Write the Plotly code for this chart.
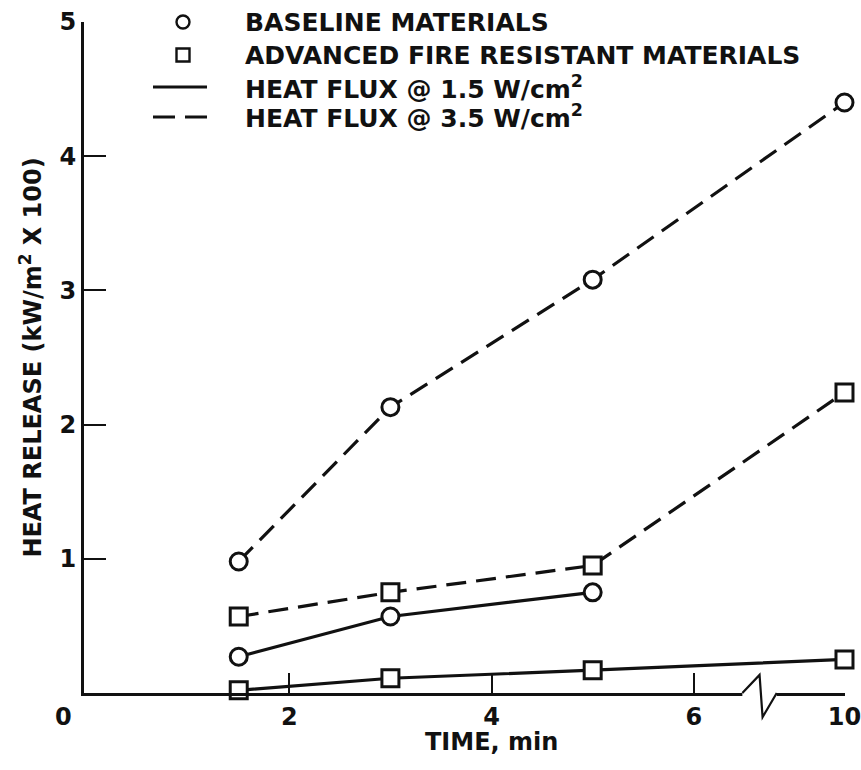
import plotly.graph_objects as go

# ---- data ----
time_min = [1.5, 3, 5, 10]
baseline_35 = [0.98, 2.13, 3.08, 4.40]
advanced_35 = [0.57, 0.75, 0.95, 2.24]
baseline_15 = [0.27, 0.57, 0.75, None]
advanced_15 = [0.02, 0.11, 0.17, 0.25]

x_ticks = [2, 4, 6, 10]
x_tick_text = ["2", "4", "6", "10"]
y_ticks = [1, 2, 3, 4, 5]

key_labels = [
    "BASELINE MATERIALS",
    "ADVANCED FIRE RESISTANT MATERIALS",
    "HEAT FLUX @ 1.5 W/cm<sup>2</sup>",
    "HEAT FLUX @ 3.5 W/cm<sup>2</sup>",
]

# broken x axis: values beyond 6 min are compressed
BREAK_AT = 6.0
BREAK_SCALE = 0.3725


def to_axis(v):
    return v if v <= BREAK_AT else BREAK_AT + (v - BREAK_AT) * BREAK_SCALE


FONT = "DejaVu Sans"
BLACK = "#111111"
LW = 3.2
DASH = "20px,10px"
MSIZE = 17

# plot area in pixels (used only to place the key)
W, H = 861, 770
ML, MR, MT, MB = 84, 16, 22, 77
PW, PH = W - ML - MR, H - MT - MB


def px(xp):
    return (xp - ML) / PW


def py(yp):
    return (H - MB - yp) / PH


xs = [to_axis(v) for v in time_min]

fig = go.Figure()


def add_series(y, symbol, dash, name):
    pts = [(x, v) for x, v in zip(xs, y) if v is not None]
    fig.add_trace(go.Scatter(
        x=[p[0] for p in pts], y=[p[1] for p in pts], name=name,
        mode="lines+markers", showlegend=False, cliponaxis=False,
        line=dict(color=BLACK, width=LW, dash=dash),
        marker=dict(symbol=symbol, size=MSIZE, color="white",
                    line=dict(color=BLACK, width=3)),
    ))


add_series(baseline_35, "circle", DASH, "Baseline, 3.5 W/cm²")
add_series(advanced_35, "square", DASH, "Advanced, 3.5 W/cm²")
add_series(baseline_15, "circle", "solid", "Baseline, 1.5 W/cm²")
add_series(advanced_15, "square", "solid", "Advanced, 1.5 W/cm²")

# ---- key (top left) ----
row_y = [22, 55, 87, 117]
sym_x = 183
line_x0, line_x1 = 153, 207
text_x = 243
key_font = dict(family=FONT, size=25, color=BLACK, weight="bold")

for lab, ry in zip(key_labels, row_y):
    fig.add_annotation(x=px(text_x), y=py(ry), xref="paper", yref="paper", text=lab,
                       showarrow=False, xanchor="left", yanchor="middle", font=key_font)

fig.add_shape(type="circle", xref="paper", yref="paper",
              xsizemode="pixel", ysizemode="pixel",
              xanchor=px(sym_x), yanchor=py(row_y[0]), x0=-6.5, x1=6.5, y0=-6.5, y1=6.5,
              line=dict(color=BLACK, width=2.4))
fig.add_shape(type="rect", xref="paper", yref="paper",
              xsizemode="pixel", ysizemode="pixel",
              xanchor=px(sym_x), yanchor=py(row_y[1]), x0=-6.5, x1=6.5, y0=-6.5, y1=6.5,
              line=dict(color=BLACK, width=2.4))
fig.add_shape(type="line", xref="paper", yref="paper",
              x0=px(line_x0), x1=px(line_x1), y0=py(row_y[2]), y1=py(row_y[2]),
              line=dict(color=BLACK, width=LW))
fig.add_shape(type="line", xref="paper", yref="paper",
              x0=px(line_x0), x1=px(line_x1), y0=py(row_y[3]), y1=py(row_y[3]),
              line=dict(color=BLACK, width=LW, dash="22px,10px"))

# ---- axis break glyph ----
bx0, bpk, btr, bx1 = BREAK_AT + 0.48, BREAK_AT + 0.65, BREAK_AT + 0.68, BREAK_AT + 0.82
fig.add_shape(type="rect", xref="x", yref="paper", x0=bx0, x1=bx1, y0=-0.005, y1=0.005,
              line=dict(width=0), fillcolor="white", layer="above")
fig.add_shape(type="path", xref="x", yref="paper",
              path=f"M {bx0},0 L {bpk},0.027 L {btr},-0.036 L {bx1},0",
              line=dict(color=BLACK, width=2.2), layer="above")

# origin label
fig.add_annotation(x=0, y=0, xref="x", yref="y", text="0", showarrow=False,
                   xanchor="center", yanchor="middle", xshift=-24, yshift=-24,
                   font=dict(family=FONT, size=24, color=BLACK, weight="bold"))

# x-axis title, centred under the 4-minute tick as in the original
fig.add_annotation(x=to_axis(4), y=0, xref="x", yref="y", text="TIME, min",
                   showarrow=False, xanchor="center", yanchor="middle", yshift=-49,
                   font=dict(family=FONT, size=24, color=BLACK, weight="bold"))

fig.update_layout(
    width=W, height=H,
    margin=dict(l=ML, r=MR, t=MT, b=MB, autoexpand=False),
    paper_bgcolor="white", plot_bgcolor="white",
    font=dict(family=FONT, size=24, color=BLACK, weight="bold"),
    showlegend=False,
    xaxis=dict(
        range=[-0.03, to_axis(10) + 0.005],
        tickvals=[to_axis(v) for v in x_ticks], ticktext=x_tick_text,
        ticks="inside", ticklen=20, tickwidth=1.8, tickcolor=BLACK,
        ticklabeloverflow="allow", automargin=False,
        showline=True, linecolor=BLACK, linewidth=3, showgrid=False, zeroline=False,
        tickfont=dict(family=FONT, size=24, weight="bold"),
    ),
    yaxis=dict(
        range=[0, 5], tickvals=y_ticks, automargin=False,
        ticks="inside", ticklen=22, tickwidth=1.8, tickcolor=BLACK,
        showline=True, linecolor=BLACK, linewidth=3, showgrid=False, zeroline=False,
        tickfont=dict(family=FONT, size=24, weight="bold"),
        title=dict(text="HEAT RELEASE (kW/m<sup>2</sup> X 100)", standoff=12,
                   font=dict(family=FONT, size=24, weight="bold")),
    ),
)

fig.write_html("out.html")
